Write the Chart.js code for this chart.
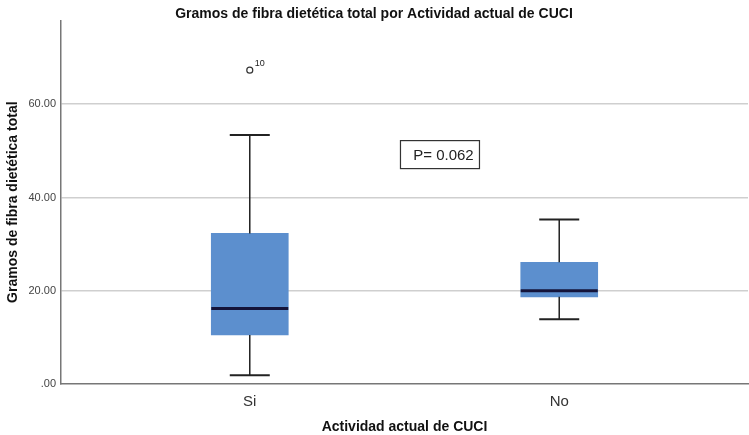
<!DOCTYPE html>
<html>
<head>
<meta charset="utf-8">
<script src="https://cdn.jsdelivr.net/npm/chart.js@4.4.0/dist/chart.umd.min.js"></script>
<style>
  html, body { margin: 0; padding: 0; background: #fff; overflow: hidden; }
</style>
</head>
<body>
<canvas id="boxChart" width="749" height="435"></canvas>
<script>
// groups and box plot summary values
const categories = ['Si', 'No'];
const whiskerLow = [1.9, 13.9];
const q1 = [10.5, 18.7];
const median = [16.2, 20.0];
const q3 = [32.3, 26.1];
const whiskerHigh = [53.4, 35.3];
const outliers = [{ group: 0, value: 67.3, label: '10' }];
const yTicks = [0, 20, 40, 60];
const pText = 'P= 0.062';

const boxColor = 'rgb(92,143,206)';

const boxExtras = {
    id: 'boxExtras',
    afterDatasetsDraw(chart) {
        const ctx = chart.ctx;
        const xs = chart.scales.x, ys = chart.scales.y;
        ctx.save();
        categories.forEach((c, i) => {
            const cx = xs.getPixelForValue(i);
            // whiskers
            ctx.strokeStyle = '#222';
            ctx.lineWidth = 1.5;
            ctx.beginPath();
            ctx.moveTo(cx, ys.getPixelForValue(q3[i]));
            ctx.lineTo(cx, ys.getPixelForValue(whiskerHigh[i]));
            ctx.moveTo(cx, ys.getPixelForValue(q1[i]));
            ctx.lineTo(cx, ys.getPixelForValue(whiskerLow[i]));
            ctx.stroke();
            ctx.lineWidth = 2;
            ctx.beginPath();
            [whiskerHigh[i], whiskerLow[i]].forEach(v => {
                const y = ys.getPixelForValue(v);
                ctx.moveTo(cx - 20, y);
                ctx.lineTo(cx + 20, y);
            });
            ctx.stroke();
            // median
            ctx.strokeStyle = '#14143a';
            ctx.lineWidth = 3;
            ctx.beginPath();
            const my = ys.getPixelForValue(median[i]);
            ctx.moveTo(cx - 38.5, my);
            ctx.lineTo(cx + 38.5, my);
            ctx.stroke();
        });
        // outlier case labels
        ctx.fillStyle = '#222';
        ctx.font = '9px "Liberation Sans", Arial, sans-serif';
        ctx.textBaseline = 'middle';
        outliers.forEach(o => {
            ctx.fillText(o.label, xs.getPixelForValue(o.group) + 5, ys.getPixelForValue(o.value) - 7);
        });
        // p-value box
        const bx = xs.getPixelForValue(0.487), by = ys.getPixelForValue(52.2);
        ctx.fillStyle = '#fff';
        ctx.fillRect(bx, by, 79, 28);
        ctx.strokeStyle = '#333';
        ctx.lineWidth = 1.2;
        ctx.strokeRect(bx, by, 79, 28);
        ctx.fillStyle = '#222';
        ctx.font = '15px "Liberation Sans", Arial, sans-serif';
        ctx.textAlign = 'center';
        ctx.fillText(pText, bx + 43, by + 15);
        ctx.restore();
    }
};

document.addEventListener('DOMContentLoaded', () => {
    const ctx = document.getElementById('boxChart').getContext('2d');
    Chart.defaults.font.family = '"Liberation Sans", Arial, sans-serif';
    Chart.defaults.color = '#333';
    new Chart(ctx, {
        type: 'bar',
        data: {
            datasets: [{
                type: 'bar',
                data: categories.map((c, i) => ({ x: i, y: [q1[i], q3[i]] })),
                backgroundColor: boxColor,
                borderWidth: 0,
                barThickness: 77,
                grouped: false
            }, {
                type: 'scatter',
                data: outliers.map(o => ({ x: o.group, y: o.value })),
                pointStyle: 'circle',
                pointRadius: 3,
                pointBorderWidth: 1.2,
                borderColor: '#333',
                backgroundColor: '#fff'
            }]
        },
        options: {
            responsive: false,
            animation: false,
            layout: { autoPadding: false, padding: { right: 1 } },
            plugins: {
                legend: { display: false },
                tooltip: { enabled: false },
                title: {
                    display: true,
                    text: 'Gramos de fibra dietética total por Actividad actual de CUCI',
                    font: { size: 14, weight: 'bold' },
                    color: '#111',
                    padding: { top: 6, bottom: -2.5 }
                }
            },
            scales: {
                x: {
                    type: 'linear',
                    offset: false,
                    min: -0.61,
                    max: 1.61,
                    afterBuildTicks: s => { s.ticks = categories.map((c, i) => ({ value: i })); },
                    afterFit: s => { s.height = 51; s.paddingLeft = 0; s.paddingRight = 0; },
                    ticks: {
                        callback: v => categories[v],
                        font: { size: 15 },
                        color: '#333',
                        padding: 1
                    },
                    grid: { display: false, offset: false },
                    border: { color: '#777', width: 1.5 },
                    title: {
                        display: true,
                        text: 'Actividad actual de CUCI',
                        font: { size: 14, weight: 'bold' },
                        color: '#111',
                        padding: { top: 0, bottom: -1 }
                    }
                },
                y: {
                    min: 0,
                    max: 78,
                    afterBuildTicks: s => { s.ticks = yTicks.map(v => ({ value: v })); },
                    afterFit: s => { s.width = 61; s.paddingTop = 0; s.paddingBottom = 0; },
                    ticks: {
                        callback: v => v === 0 ? '.00' : v.toFixed(2),
                        font: { size: 11 },
                        color: '#444',
                        padding: 5
                    },
                    grid: {
                        color: c => c.tick && c.tick.value === 0 ? 'rgba(0,0,0,0)' : '#cfcfcf',
                        lineWidth: 1.5,
                        drawTicks: false
                    },
                    border: { color: '#777', width: 1.5 },
                    title: {
                        display: true,
                        text: 'Gramos de fibra dietética total',
                        font: { size: 14, weight: 'bold' },
                        color: '#111',
                        padding: { top: 5, bottom: 0 }
                    }
                }
            }
        },
        plugins: [boxExtras]
    });
});
</script>
</body>
</html>
